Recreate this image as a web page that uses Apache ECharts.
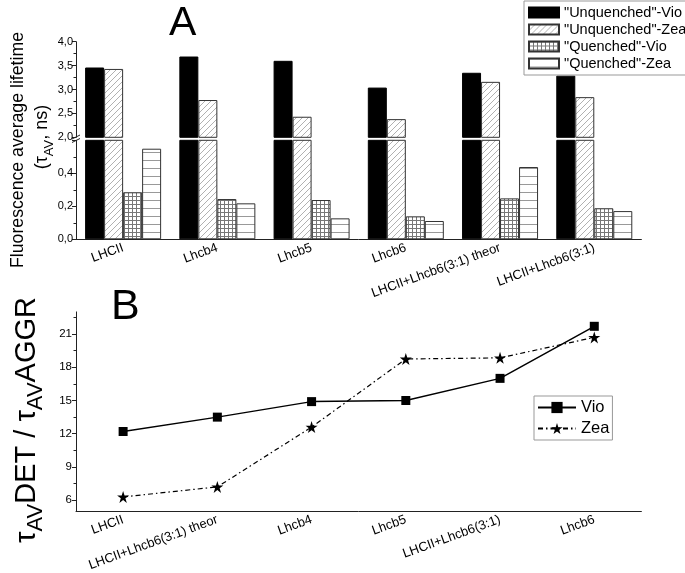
<!DOCTYPE html>
<html><head><meta charset="utf-8">
<script src="https://cdn.jsdelivr.net/npm/echarts@6/dist/echarts.min.js"></script>
<style>html,body{margin:0;padding:0;background:#fff}#c{width:685px;height:573px}</style>
</head><body><div id="c"></div>
<script>
// ---------- data ----------
const categoriesA = ['LHCII', 'Lhcb4', 'Lhcb5', 'Lhcb6', 'LHCII+Lhcb6(3:1) theor', 'LHCII+Lhcb6(3:1)'];
const unquenchedVio = [3.46, 3.69, 3.60, 3.04, 3.35, 3.29];
const unquenchedZea = [3.43, 2.78, 2.43, 2.38, 3.16, 2.84];
const quenchedVio = [0.285, 0.244, 0.238, 0.139, 0.248, 0.188];
const quenchedZea = [0.549, 0.218, 0.127, 0.111, 0.438, 0.171];
const seriesNamesA = ['"Unquenched"-Vio', '"Unquenched"-Zea', '"Quenched"-Vio', '"Quenched"-Zea'];

const categoriesB = ['LHCII', 'LHCII+Lhcb6(3:1) theor', 'Lhcb4', 'Lhcb5', 'LHCII+Lhcb6(3:1)', 'Lhcb6'];
const ratioVio = [12.2, 13.5, 14.9, 15.0, 17.0, 21.7];
const ratioZea = [6.3, 7.2, 12.6, 18.75, 18.85, 20.7];
const seriesNamesB = ['Vio', 'Zea'];

const ticksB = [6, 9, 12, 15, 18, 21];
const minorTicksB = [7.5, 10.5, 13.5, 16.5, 19.5, 22.5];

// ---------- styling helpers ----------
const FF = 'Liberation Sans, Arial, sans-serif';
function pattern(kind) {
  const c = document.createElement('canvas');
  const g = c.getContext('2d');
  if (kind === 'diag') {
    const s = 6; c.width = s; c.height = s;
    g.fillStyle = '#fff'; g.fillRect(0, 0, s, s);
    g.strokeStyle = '#a8a8a8'; g.lineWidth = 0.9;
    g.beginPath();
    g.moveTo(0, s); g.lineTo(s, 0);
    g.moveTo(-1, 1); g.lineTo(1, -1);
    g.moveTo(s - 1, s + 1); g.lineTo(s + 1, s - 1);
    g.stroke();
  } else if (kind === 'grid') {
    const s = 4; c.width = s; c.height = s;
    g.fillStyle = '#fff'; g.fillRect(0, 0, s, s);
    g.fillStyle = '#777';
    g.fillRect(0, 0, 1, s); g.fillRect(0, 0, s, 1);
  } else {
    c.width = 8; c.height = 8;
    g.fillStyle = '#fff'; g.fillRect(0, 0, 8, 8);
    g.fillStyle = '#999'; g.fillRect(0, 0, 8, 1);
  }
  return { image: c, repeat: 'repeat' };
}
const styles = [
  { color: '#000', borderColor: '#000', borderWidth: 1 },
  { color: pattern('diag'), borderColor: '#333', borderWidth: 1 },
  { color: pattern('grid'), borderColor: '#333', borderWidth: 1 },
  { color: pattern('horiz'), borderColor: '#333', borderWidth: 1 }
];
const valsA = [unquenchedVio, unquenchedZea, quenchedVio, quenchedZea];
const UPPER_MIN = 2;
const fmtComma = v => v.toFixed(1).replace('.', ',');

const axisLineStyle = { color: '#222', width: 1 };

const series = [];
valsA.forEach((vals, i) => {
  series.push({
    name: seriesNamesA[i], type: 'bar', xAxisIndex: 0, yAxisIndex: 0,
    data: vals.map(v => (v >= UPPER_MIN ? v : null)),
    barWidth: 19, barGap: '0%', clip: true, itemStyle: styles[i]
  });
});
valsA.forEach((vals, i) => {
  series.push({
    name: seriesNamesA[i], type: 'bar', xAxisIndex: 1, yAxisIndex: 1,
    data: vals, barWidth: 19, barGap: '0%', clip: true, itemStyle: styles[i]
  });
});
const starPath = 'path://M50,0 L61.2,34.5 L97.6,34.5 L68.2,55.9 L79.4,90.5 L50,69.1 L20.6,90.5 L31.8,55.9 L2.4,34.5 L38.8,34.5 Z';
series.push({
  name: seriesNamesB[0], type: 'line', xAxisIndex: 2, yAxisIndex: 2, data: ratioVio,
  symbol: 'rect', symbolSize: 9, lineStyle: { color: '#000', width: 1.5 },
  itemStyle: { color: '#000' }
});
series.push({
  name: seriesNamesB[1], type: 'line', xAxisIndex: 2, yAxisIndex: 2, data: ratioZea,
  symbol: starPath, symbolSize: 12, lineStyle: { color: '#000', width: 1.2, type: [5, 3, 1.5, 3] },
  itemStyle: { color: '#000' }
});

const grids = [
  { left: 76, right: 43.6, top: 41.7, height: 95.6 },
  { left: 76, right: 43.6, top: 140.3, height: 99 },
  { left: 76, right: 43.6, top: 311.9, height: 201.6 }
];

const xLabel = { rotate: 20, margin: 8, fontSize: 13, color: '#000', fontFamily: FF, interval: 0 };

const option = {
  animation: false,
  backgroundColor: '#fff',
  textStyle: { fontFamily: FF },
  grid: grids,
  xAxis: [
    { type: 'category', gridIndex: 0, data: categoriesA, show: false },
    { type: 'category', gridIndex: 1, data: categoriesA,
      axisLine: { lineStyle: axisLineStyle },
      axisTick: { alignWithLabel: true, length: 4, lineStyle: { color: '#222' } },
      axisLabel: xLabel },
    { type: 'category', gridIndex: 2, data: categoriesB,
      axisLine: { lineStyle: axisLineStyle },
      axisTick: { alignWithLabel: true, length: 4, lineStyle: { color: '#222' } },
      axisLabel: xLabel }
  ],
  yAxis: [
    { type: 'value', gridIndex: 0, min: 2, max: 4, interval: 0.5, position: 'left',
      axisLine: { show: true, lineStyle: axisLineStyle },
      axisTick: { show: true, inside: false, length: 4, lineStyle: { color: '#222' } },
      minorTick: { show: true, splitNumber: 2, length: 2.5, lineStyle: { color: '#222' } },
      splitLine: { show: false },
      axisLabel: { formatter: fmtComma, fontSize: 11, color: '#000', margin: 3, fontFamily: FF } },
    { type: 'value', gridIndex: 1, min: 0, max: 0.6, interval: 0.2, position: 'left',
      axisLine: { show: true, lineStyle: axisLineStyle },
      axisTick: { show: true, inside: false, length: 4, lineStyle: { color: '#222' } },
      minorTick: { show: true, splitNumber: 2, length: 2.5, lineStyle: { color: '#222' } },
      splitLine: { show: false },
      axisLabel: { formatter: fmtComma, fontSize: 11, color: '#000', margin: 3, showMaxLabel: false, fontFamily: FF } },
    { type: 'value', gridIndex: 2, min: 5, max: 23, position: 'left',
      axisLine: { show: true, lineStyle: axisLineStyle },
      axisTick: { show: true, length: 4, customValues: ticksB, lineStyle: { color: '#222' } },
      splitLine: { show: false },
      axisLabel: { customValues: ticksB, fontSize: 11.5, color: '#000', margin: 4, fontFamily: FF } },
    { type: 'value', gridIndex: 2, min: 5, max: 23, position: 'left', offset: 0,
      axisLine: { show: false },
      axisTick: { show: true, length: 2.5, customValues: minorTicksB, lineStyle: { color: '#222' } },
      splitLine: { show: false },
      axisLabel: { show: false } }
  ],
  legend: [
    { data: seriesNamesA, orient: 'vertical', left: 524, top: 1, icon: 'rect',
      itemWidth: 30, itemHeight: 10, itemGap: 2, padding: [4, 4, 4, 4],
      borderColor: '#999', borderWidth: 1,
      textStyle: { fontSize: 14.5, color: '#000', fontFamily: FF } },
    { data: seriesNamesB, orient: 'vertical', left: 534, top: 396,
      itemWidth: 38, itemHeight: 14, itemGap: 4, padding: [3, 3, 3, 3],
      borderColor: '#999', borderWidth: 1,
      textStyle: { fontSize: 16.5, color: '#000', fontFamily: FF } }
  ],
  graphic: [
    { type: 'text', left: 169, top: 3, style: { text: 'A', fontSize: 41, fontFamily: FF, fill: '#000' } },
    { type: 'text', left: 111, top: 286, style: { text: 'B', fontSize: 43, fontFamily: FF, fill: '#000' } },
    { type: 'text', x: 18, y: 150, rotation: Math.PI / 2,
      style: { text: 'Fluorescence average lifetime', fontSize: 17.7, fontFamily: FF, fill: '#000', align: 'center', verticalAlign: 'middle' } },
    { type: 'text', x: 42, y: 137, rotation: Math.PI / 2,
      style: { text: '{m|(τ}{s|AV}{m|, ns)}', align: 'center', verticalAlign: 'middle', fill: '#000',
        rich: { m: { fontSize: 18, fontFamily: FF, lineHeight: 27, verticalAlign: 'middle' },
                s: { fontSize: 13, fontFamily: FF, lineHeight: 13, verticalAlign: 'bottom' } } } },
    { type: 'text', x: 27, y: 420, rotation: Math.PI / 2,
      style: { text: '{m|τ}{s|AV}{m|DET / τ}{s|AV}{m|AGGR}', align: 'center', verticalAlign: 'middle', fill: '#000',
        rich: { m: { fontSize: 29, fontFamily: FF, lineHeight: 39, verticalAlign: 'middle' },
                s: { fontSize: 22, fontFamily: FF, lineHeight: 22, verticalAlign: 'bottom' } } } },
    { type: 'line', shape: { x1: 72, y1: 139, x2: 80, y2: 135 }, style: { stroke: '#222', lineWidth: 1 } },
    { type: 'line', shape: { x1: 72, y1: 142.5, x2: 80, y2: 138.5 }, style: { stroke: '#222', lineWidth: 1 } }
  ],
  series: series
};
const chart = echarts.init(document.getElementById('c'), null, { renderer: 'canvas' });
chart.setOption(option);
</script>
</body></html>
